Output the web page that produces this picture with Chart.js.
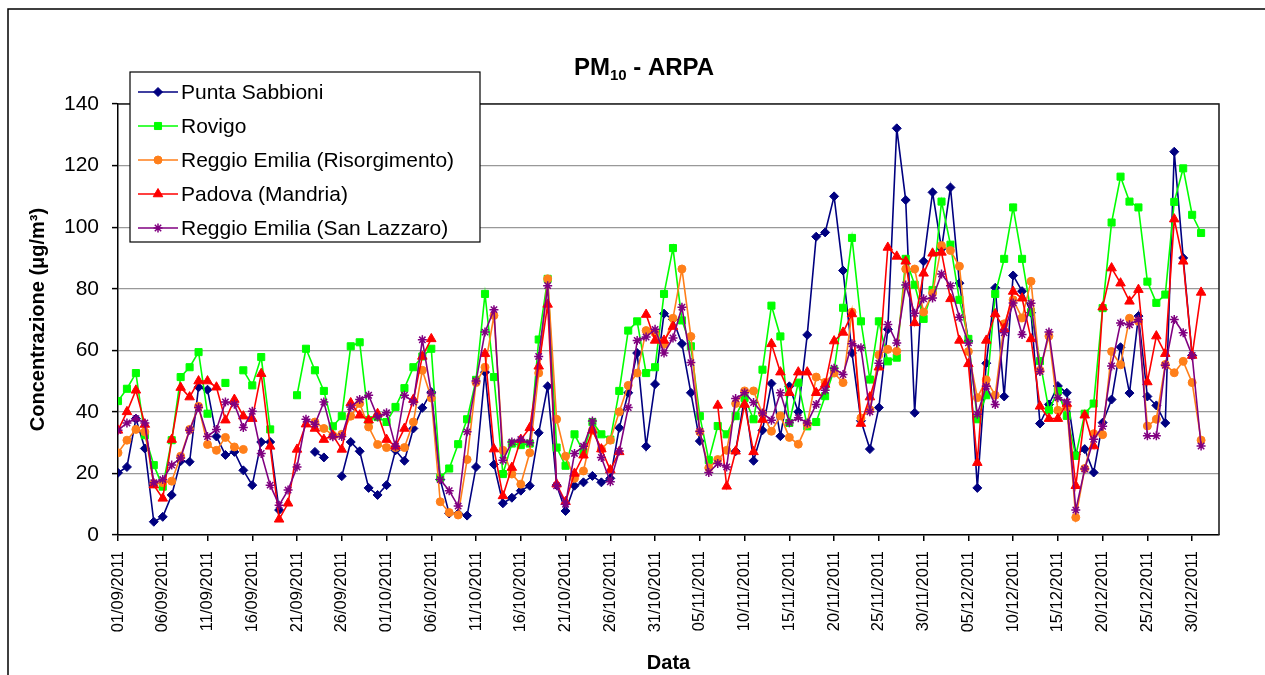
<!DOCTYPE html>
<html>
<head>
<meta charset="utf-8">
<script src="https://cdn.jsdelivr.net/npm/chart.js@4.4.1/dist/chart.umd.min.js"></script>
<style>
html, body { margin: 0; padding: 0; background: #fff; }
#wrap { width: 1265px; height: 675px; position: relative; }
</style>
</head>
<body>
<div id="wrap"><canvas id="myChart"></canvas></div>
<script>
// tick labels every 5 days, days counted from 01/09/2011 (index 0) to 31/12/2011 (index 121)
var tickLabels = ['01/09/2011', '06/09/2011', '11/09/2011', '16/09/2011', '21/09/2011', '26/09/2011',
    '01/10/2011', '06/10/2011', '11/10/2011', '16/10/2011', '21/10/2011', '26/10/2011', '31/10/2011',
    '05/11/2011', '10/11/2011', '15/11/2011', '20/11/2011', '25/11/2011', '30/11/2011',
    '05/12/2011', '10/12/2011', '15/12/2011', '20/12/2011', '25/12/2011', '30/12/2011'];

var seriesNames = ['Punta Sabbioni', 'Rovigo', 'Reggio Emilia (Risorgimento)', 'Padova (Mandria)', 'Reggio Emilia (San Lazzaro)'];

var puntaSabbioni = [20.2, 22.1, 37.8, 28.1, 4.3, 5.9, 13, 24, 23.8, 48, 47.2, 32, 26, 27, 21, 16.2, 30.2, 30.2, 8.1, null,
    null, null, 27, 25.2, null, 19.1, 30.2, 27.2, 15.3, 13, 16.2, 27.5, 24.1, 34.6, 41.3, 46.4, 18, 7, 7, 6.3,
    22.1, 52.9, 22.9, 10.3, 12.1, 14.4, 16, 33.2, 48.3, 16.2, 7.8, 16, 17.1, 19.2, 17.1, 18.4, 34.8, 46.2, 59.1, 28.8,
    49, 71.9, 70, 62.1, 46.2, 30.5, null, null, null, 27.2, 44.8, 24.1, 34, 49.2, 32.1, 48.3, 40, 65, 96.9, 98.3,
    110, 85.9, 59.1, 37.1, 27.9, 41.4, 66.8, 132.1, 108.8, 39.7, 88.9, 111.3, 93, 112.9, 81.8, 63, 15.3, 55.8, 80.3, 45,
    84.3, 79.2, 72.2, 36.2, 42.4, 48.4, 46.2, 26.2, 27.9, 20.3, 36.5, 44, 61, 46.1, 71.1, 45, 42.1, 36.4, 124.5, 90,
    58.3, null];

var rovigo = [43.5, 47.5, 52.6, 32.4, 22.7, 15.7, 30.8, 51.3, 54.5, 59.4, 39.4, null, 49.4, null, 53.5, 48.6, 57.8, 34.3, null, null,
    45.4, 60.5, 53.5, 46.8, 35.3, 38.6, 61.3, 62.6, 37.3, 38.3, 36.7, 41.6, 47.7, 54.5, 58, 60.5, 18.6, 21.6, 29.5, 37.6,
    50.4, 78.3, 51.3, 19.8, 29.7, 29.2, 29.7, 63.5, 83.2, 28.4, 22.5, 32.7, 27, 36.7, 32.7, 31, 46.8, 66.4, 69.4, 52.6,
    54.5, 78.3, 93.2, 69.7, 61.3, 38.6, 24.3, 35.4, 32.7, 38.6, 44.5, 37.6, 53.7, 74.5, 64.5, 36.4, 49.5, 35.3, 36.7, 45.1,
    53.5, 73.8, 96.5, 69.4, 50.5, 69.4, 56.4, 57.6, 89.7, 81.3, 70.2, 79.6, 108.3, 94.3, 76.4, 63.7, 37.6, 45.4, 78.3, 89.7,
    106.4, 89.7, 72.4, 56.5, 40.5, 46.7, 38.7, 25.7, 39.4, 42.7, 73.7, 101.5, 116.4, 108.3, 106.4, 82.3, 75.4, 78.1, 108.2, 119.1,
    104, 98.1];

var reggioRisorgimento = [26.7, 30.8, 34.3, 33.5, 16.7, 17, 17.5, 25.6, 34.3, 41.8, 29.4, 27.5, 31.7, 28.6, 27.8, null, null, null, null, null,
    null, null, 36.7, 34.6, 32.4, 32.7, 38.6, 42.7, 35.1, 29.4, 28.4, 28.4, 28.4, 36.7, 53.5, 44.5, 10.8, 7.3, 6.5, 24.5,
    49.5, 54.5, 71.3, 27.5, 19.8, 16.5, 26.7, 52.6, 83.2, 37.6, 25.6, 18.4, 20.8, 34, 27.9, 30.8, 40, 48.6, 52.6, 66.4,
    65.6, 62, 70.4, 86.4, 64.5, 33.5, 21.8, 24.5, 27.5, 42.7, 46.8, 46.8, 39.4, 33.7, 38.7, 31.7, 29.5, 36, 51.3, 49.6,
    52.6, 49.5, 72.4, 38, 40.7, 58.5, 60.3, 59.7, 86.4, 86.4, 72.4, 78.5, 94, 92.4, 87.3, 59.6, 44.6, 50.4, 45.4, 68.6,
    76.4, 70.5, 82.4, 53.5, 64.6, 40.5, 41.6, 5.7, 21.6, 32.9, 32.6, 59.6, 55.3, 70.4, 69.4, 35.4, 37.6, 55.4, 52.7, 56.4,
    49.5, 30.8];

var padovaMandria = [34, 40, 47, 35.9, 16.2, 11.9, 31, 47.9, 44.8, 50, 50, 48, 37.3, 44, 38.6, 37.8, 52.4, 28.8, 5.1, 10.3,
    27.8, 36, 34.6, 31, 32.4, 27.8, 42.9, 38.9, 37.3, 39.4, 31, 28.8, 34.6, 44, 58, 63.7, null, null, null, null,
    null, 58.9, 27.9, 12.7, 21.9, 31, 34.8, 54.8, 74.9, 16.5, 10.8, 20, 25.9, 34, 27.9, 21.1, 27, null, null, 71.6,
    63.2, 63.2, 67.7, null, null, null, null, 42.1, 15.8, 27.2, 42.4, 27, 37.5, 62.1, 52.9, 46.2, 52.9, 52.9, 46.2, 48.9,
    63, 65.8, 71.8, 36.2, 44.8, 54.5, 93.4, 90.5, 88.9, 68.9, 85, 91.5, 91.8, 76.7, 63.2, 55.6, 23.5, 63.2, 71.8, 67,
    79.1, 76.9, 63.7, 41.8, 37.8, 37.8, 42.7, 16, 38.9, 28.9, 74, 86.7, 81.8, 75.9, 79.7, 49.7, 64.6, 58.9, 102.6, 88.9,
    58.3, 78.8];

var reggioSanLazzaro = [34, 36.4, 37.8, 36.4, 17, 18, 22.7, 25, 34, 41.4, 32, 34.3, 43.2, 42.5, 34.9, 40.2, 26.5, 16.2, 9.7, 14.6,
    22.1, 37.6, 36, 43.2, 31.9, 32, 41.6, 44, 45.4, 38.3, 39.7, 28.8, 45.4, 43.2, 63.4, 46, 18, 14.4, 9.4, 33.5,
    50, 65.9, 73.2, 24.3, 30.2, 31, 30, 58, 81, 16, 10, 26.5, 28.8, 37, 25.2, 17.3, 27.3, 41.4, 63.2, 64.3,
    66.8, 59.1, 64, 74, 56, 33.7, 20.3, 23.2, 22.1, 44.3, 46.2, 43, 39.6, 37.3, 46.2, 36.5, 38.1, 36.4, 42.4, 47,
    54.2, 52.1, 62.1, 60.8, 40, 55.8, 68.4, 62.4, 81.2, 72, 76.7, 77, 84.8, 81, 70.7, 62.4, 39.2, 48.3, 42.4, 65.7,
    75.4, 65.1, 75.3, 53.1, 65.9, 44.6, 43.2, 8.1, 21.4, 31.1, 35.3, 54.9, 68.9, 68.3, 70, 32.2, 32.2, 55.1, 70, 65.7,
    58.3, 28.9];

var seriesValues = [puntaSabbioni, rovigo, reggioRisorgimento, padovaMandria, reggioSanLazzaro];
var seriesColors = ['#000080', '#00FF00', '#FF7F1A', '#FF0000', '#800080'];
var seriesMarkers = ['rectRot', 'rect', 'circle', 'triangle', 'star'];
var markerSizes = [4.5, 5, 4, 5.5, 4.5];

var FONT = "'Liberation Sans', Arial, sans-serif";
Chart.defaults.font.family = FONT;
Chart.defaults.color = '#000';

function toPoints(arr) {
    return arr.map(function (v, i) { return { x: i, y: v }; });
}

var datasets = seriesValues.map(function (vals, k) {
    return {
        label: seriesNames[k],
        data: toPoints(vals),
        borderColor: seriesColors[k],
        backgroundColor: seriesColors[k],
        pointBackgroundColor: seriesColors[k],
        pointBorderColor: seriesColors[k],
        pointStyle: seriesMarkers[k],
        pointRadius: markerSizes[k],
        pointBorderWidth: seriesMarkers[k] == 'star' ? 1.5 : 1,
        borderWidth: 1.6,
        tension: 0,
        spanGaps: false,
        order: 4 - k
    };
});

function drawMarker(ctx, style, r, color, x, y) {
    var h = Chart.helpers;
    ctx.fillStyle = color;
    ctx.strokeStyle = color;
    ctx.lineWidth = style == 'star' ? 1.5 : 1;
    if (h && h.drawPoint) {
        h.drawPoint(ctx, { pointStyle: style, radius: r, borderWidth: ctx.lineWidth, rotation: 0 }, x, y);
        return;
    }
    ctx.beginPath();
    ctx.arc(x, y, r, 0, Math.PI * 2);
    ctx.fill();
}

var extras = {
    id: 'extras',
    beforeDatasetsDraw: function (chart) {
        var a = chart.chartArea, ctx = chart.ctx;
        ctx.save();
        ctx.strokeStyle = '#222';
        ctx.lineWidth = 1.6;
        ctx.beginPath();
        ctx.moveTo(a.left, a.top);
        ctx.lineTo(a.right, a.top);
        ctx.lineTo(a.right, a.bottom);
        ctx.stroke();
        ctx.restore();
    },
    afterDraw: function (chart) {
        var ctx = chart.ctx;
        ctx.save();
        // outer frame
        ctx.strokeStyle = '#000';
        ctx.lineWidth = 1.5;
        ctx.beginPath();
        ctx.moveTo(8, 675);
        ctx.lineTo(8, 9);
        ctx.lineTo(1265, 9);
        ctx.stroke();

        // title PM10 - ARPA
        ctx.fillStyle = '#000';
        ctx.textBaseline = 'alphabetic';
        ctx.textAlign = 'left';
        var big = 'bold 24px ' + FONT, small = 'bold 15px ' + FONT;
        ctx.font = big;
        var w1 = ctx.measureText('PM').width, w3 = ctx.measureText(' - ARPA').width;
        ctx.font = small;
        var w2 = ctx.measureText('10').width;
        var x0 = 644 - (w1 + w2 + w3) / 2, base = 75;
        ctx.font = big;
        ctx.fillText('PM', x0, base);
        ctx.font = small;
        ctx.fillText('10', x0 + w1, base + 5);
        ctx.font = big;
        ctx.fillText(' - ARPA', x0 + w1 + w2, base);

        // legend box
        ctx.fillStyle = '#fff';
        ctx.fillRect(130, 72, 350, 170);
        ctx.strokeStyle = '#000';
        ctx.lineWidth = 1.2;
        ctx.strokeRect(130, 72, 350, 170);
        ctx.font = '21px ' + FONT;
        ctx.textBaseline = 'middle';
        for (var k = 0; k < seriesNames.length; k++) {
            var y = 92 + k * 34;
            ctx.strokeStyle = seriesColors[k];
            ctx.lineWidth = 1.6;
            ctx.beginPath();
            ctx.moveTo(138, y);
            ctx.lineTo(178, y);
            ctx.stroke();
            drawMarker(ctx, seriesMarkers[k], markerSizes[k], seriesColors[k], 158, y);
            ctx.fillStyle = '#000';
            ctx.fillText(seriesNames[k], 181, y + 1);
        }
        ctx.restore();
    }
};

var ctx = document.getElementById('myChart').getContext('2d');
var myChart = new Chart(ctx, {
    type: 'line',
    data: { datasets: datasets },
    options: {
        responsive: true,
        maintainAspectRatio: false,
        animation: false,
        layout: { padding: { top: 104, right: 46, left: 0, bottom: 0 } },
        plugins: {
            legend: { display: false },
            title: { display: false },
            tooltip: { enabled: false }
        },
        scales: {
            x: {
                type: 'linear',
                min: 0,
                max: 123,
                afterBuildTicks: function (scale) {
                    scale.ticks = tickLabels.map(function (t, k) { return { value: k * 5 }; });
                },
                afterFit: function (scale) { scale.height = 140; },
                ticks: {
                    autoSkip: false,
                    maxRotation: 90,
                    minRotation: 90,
                    padding: 10,
                    font: { size: 16.5 },
                    callback: function (v) { return tickLabels[Math.round(v / 5)]; }
                },
                grid: { drawOnChartArea: false, tickLength: 6, color: '#000', lineWidth: 1.5 },
                border: { color: '#000', width: 1.5 },
                title: { display: true, text: 'Data', font: { size: 20, weight: 'bold' }, padding: { top: 5, bottom: 0 } }
            },
            y: {
                min: 0,
                max: 140,
                afterFit: function (scale) { scale.width = 118; },
                ticks: { stepSize: 20, padding: 13, font: { size: 21 } },
                grid: { color: '#999', lineWidth: 1.2, tickLength: 6, tickColor: '#000', tickWidth: 1.5 },
                border: { color: '#000', width: 1.5 },
                title: { display: true, text: 'Concentrazione (μg/m³)', font: { size: 20, weight: 'bold' }, padding: { top: 26, bottom: 0 } }
            }
        }
    },
    plugins: [extras]
});
</script>
</body>
</html>
